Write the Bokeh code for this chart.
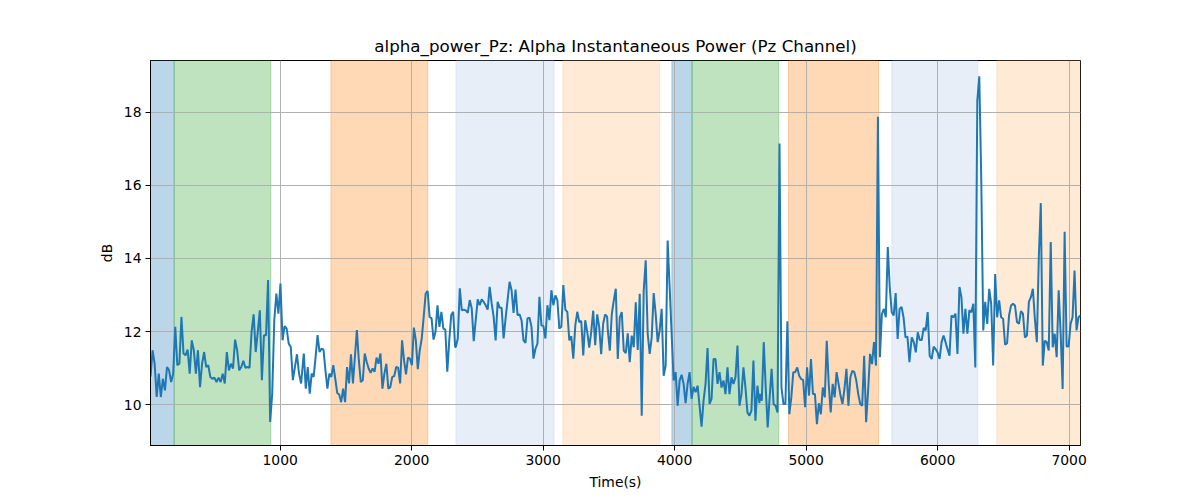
import numpy as np
from bokeh.plotting import figure
from bokeh.models import BoxAnnotation, Range1d, FixedTicker
from bokeh.embed import file_html
from bokeh.resources import INLINE

# Alpha power (dB) in six consecutive time segments
seg1_range = (14, 1175)
seg1 = [10.76, 11.49, 11.12, 10.21, 10.85, 10.21, 10.71, 10.39, 11.03, 10.94,
        10.62, 10.85, 12.13, 11.08, 11.12, 12.40, 11.40, 11.35, 11.51, 10.85,
        11.76, 11.49, 10.85, 11.49, 10.48, 11.12, 11.44, 11.03, 11.08, 10.76,
        10.71, 10.74, 10.62, 10.74, 10.62, 10.85, 10.58, 11.44, 10.94, 11.12,
        10.99, 11.78, 11.49, 10.94, 11.03, 11.20, 11.01, 11.03, 11.01, 11.99,
        12.47, 11.44, 11.99, 12.58, 10.67, 11.90, 11.90, 13.41, 9.53, 10.30,
        12.31, 13.04, 12.49, 13.31, 11.76, 12.15, 12.08, 11.67, 11.58, 10.67,
        11.03, 11.38, 10.85, 10.58, 11.21]
seg2_range = (1180, 2331)
seg2 = [11.40, 10.44, 11.03, 10.30, 10.85, 10.76, 11.31, 11.90, 11.44, 11.53,
        11.51, 10.94, 10.44, 10.85, 10.76, 11.08, 10.71, 10.32, 10.28, 10.07,
        10.44, 10.07, 11.03, 10.58, 11.38, 10.58, 11.31, 12.04, 11.21, 10.62,
        10.67, 11.40, 11.17, 10.99, 10.87, 10.99, 10.90, 11.29, 11.12, 11.40,
        10.44, 10.85, 11.12, 10.44, 10.48, 10.76, 10.78, 11.03, 11.01, 10.58,
        11.76, 11.21, 10.83, 11.29, 11.26, 11.08, 12.11, 11.76, 10.97, 11.49,
        11.81, 12.40, 13.04, 13.11, 12.40, 12.36, 11.78, 11.99, 12.72, 12.13,
        12.54, 12.08, 12.05, 10.90, 11.76, 12.45, 12.54, 11.58]
seg3_range = (2336, 3487)
seg3 = [11.58, 11.81, 13.18, 12.58, 12.60, 12.58, 12.51, 12.86, 12.63, 11.74,
        12.31, 12.88, 12.72, 12.88, 12.81, 12.72, 12.60, 13.22, 12.77, 12.40,
        11.76, 12.81, 12.65, 12.65, 11.81, 12.36, 12.86, 13.36, 13.13, 12.51,
        13.15, 12.45, 12.47, 12.31, 11.76, 11.69, 12.36, 12.38, 12.13, 11.26,
        11.53, 11.67, 12.95, 12.17, 12.15, 11.81, 12.72, 12.31, 13.13, 12.72,
        12.99, 12.86, 12.08, 12.13, 13.27, 12.60, 12.54, 11.76, 11.87, 11.26,
        12.17, 12.54, 12.26, 12.29, 11.35, 12.31, 11.99, 11.56, 11.99, 12.57,
        11.63, 12.47, 12.13, 11.38, 12.22, 12.47, 12.40]
seg4_range = (3492, 4645)
seg4 = [12.03, 11.48, 12.48, 12.85, 13.17, 11.25, 12.39, 12.53, 11.48, 11.41,
        11.95, 11.16, 11.89, 11.57, 12.80, 11.50, 13.03, 9.70, 13.12, 13.95,
        11.94, 11.39, 11.84, 13.05, 12.48, 11.71, 12.03, 12.62, 10.79, 11.07,
        14.49, 13.21, 11.94, 10.66, 10.89, 9.97, 10.66, 10.82, 10.57, 10.04,
        10.57, 10.89, 10.16, 10.49, 10.34, 10.52, 9.97, 9.40, 10.11, 10.57,
        11.55, 10.02, 10.16, 11.25, 11.25, 10.57, 10.89, 10.47, 10.66, 10.29,
        11.02, 10.29, 10.75, 10.57, 10.75, 11.62, 9.97, 10.29, 11.02, 10.47,
        9.79, 9.70, 9.84, 11.21, 9.56, 10.52, 10.04]
seg5_range = (4648, 5801)
seg5 = [10.29, 10.11, 11.71, 10.47, 9.38, 10.20, 10.98, 10.02, 9.97, 9.79,
        17.14, 10.47, 10.02, 10.02, 12.28, 9.74, 10.20, 10.89, 10.89, 11.02,
        10.79, 10.70, 10.68, 9.93, 11.02, 10.25, 11.25, 10.29, 10.29, 9.47,
        10.04, 9.74, 10.47, 10.20, 11.75, 10.57, 9.79, 10.57, 10.20, 10.89,
        10.57, 10.25, 10.02, 10.43, 10.98, 9.97, 10.75, 10.93, 10.89, 10.66,
        10.29, 10.02, 9.97, 11.34, 9.52, 10.38, 11.39, 11.11, 11.71, 11.07,
        17.87, 11.30, 12.48, 12.62, 12.39, 14.31, 13.21, 12.53, 12.44, 13.05,
        11.80, 12.62, 12.67, 12.39, 11.84, 11.86, 11.16, 11.75]
seg6_range = (5804, 7087)
seg6 = [11.84, 11.71, 11.43, 11.98, 11.77, 11.77, 12.10, 12.03, 12.53, 11.34,
        11.25, 11.59, 11.52, 11.43, 11.25, 11.71, 11.89, 11.71, 11.52, 11.34,
        12.44, 12.39, 12.49, 11.39, 13.22, 12.94, 11.94, 12.62, 11.94, 12.58,
        12.53, 12.76, 11.02, 18.30, 18.98, 16.15, 12.03, 12.81, 12.21, 13.17,
        12.76, 11.07, 13.57, 12.39, 12.85, 12.39, 12.35, 11.64, 11.68, 12.44,
        12.71, 12.76, 12.71, 12.26, 12.21, 12.56, 12.49, 11.84, 11.89, 12.81,
        12.94, 13.17, 12.35, 11.71, 14.04, 15.51, 11.07, 11.75, 11.71, 11.48,
        14.45, 11.57, 11.94, 11.30, 13.13, 11.94, 10.43, 14.73, 11.59, 11.59,
        12.21, 12.39, 13.67, 12.03, 12.39, 12.44]

# Shaded task intervals (seconds)
span_start = [0, 194, 1386, 2337, 3150, 3979, 4133, 4866, 5652, 6451]
span_end = [194, 929, 2123, 3083, 3887, 4133, 4793, 5551, 6306, 7200]
span_color = ["#1f77b4", "#2ca02c", "#ff7f0e", "#aec7e8", "#ffbb78",
              "#1f77b4", "#2ca02c", "#ff7f0e", "#aec7e8", "#ffbb78"]

x_ticks = [1000, 2000, 3000, 4000, 5000, 6000, 7000]
y_ticks = [10, 12, 14, 16, 18]

segments = [(seg1_range, seg1), (seg2_range, seg2), (seg3_range, seg3),
            (seg4_range, seg4), (seg5_range, seg5), (seg6_range, seg6)]
t = np.concatenate([np.linspace(r[0], r[1], len(v)) for r, v in segments])
y = np.concatenate([np.array(v) for r, v in segments])

FONT = "DejaVu Sans"

p = figure(width=1192, height=492, output_backend="svg", toolbar_location=None,
           x_range=Range1d(14, 7087), y_range=Range1d(8.885, 19.41),
           title="alpha_power_Pz: Alpha Instantaneous Power (Pz Channel)",
           min_border_left=150, min_border_right=112, min_border_top=60,
           min_border_bottom=47)

p.title.align = "center"
p.title.text_font = FONT
p.title.text_font_size = "16.7px"
p.title.text_font_style = "normal"
p.title.text_color = "black"

for s, e, c in zip(span_start, span_end, span_color):
    p.add_layout(BoxAnnotation(left=s, right=e, fill_color=c, fill_alpha=0.3,
                               line_color=c, line_alpha=0.3, line_width=1,
                               level="image"))

p.line(t, y, line_color="#1f77b4", line_width=2)

p.xaxis.ticker = FixedTicker(ticks=x_ticks)
p.yaxis.ticker = FixedTicker(ticks=y_ticks)
p.xaxis.axis_label = "Time(s)"
p.yaxis.axis_label = "dB"
for ax in (p.xaxis, p.yaxis):
    ax.axis_label_text_font = FONT
    ax.axis_label_text_font_size = "13.9px"
    ax.axis_label_text_font_style = "normal"
    ax.axis_label_text_color = "black"
    ax.major_label_text_font = FONT
    ax.major_label_text_font_size = "13.9px"
    ax.major_label_text_color = "black"
    ax.axis_line_color = "black"
    ax.major_tick_line_color = "black"
    ax.major_tick_out = 5
    ax.major_tick_in = 0
    ax.minor_tick_line_color = None
    ax.major_label_standoff = 4
    ax.axis_label_standoff = 6

p.grid.grid_line_color = "#b0b0b0"
p.grid.grid_line_width = 1
p.outline_line_color = "black"
p.outline_line_alpha = 1
p.outline_line_width = 1

open("out.html", "w").write(file_html(p, INLINE))
